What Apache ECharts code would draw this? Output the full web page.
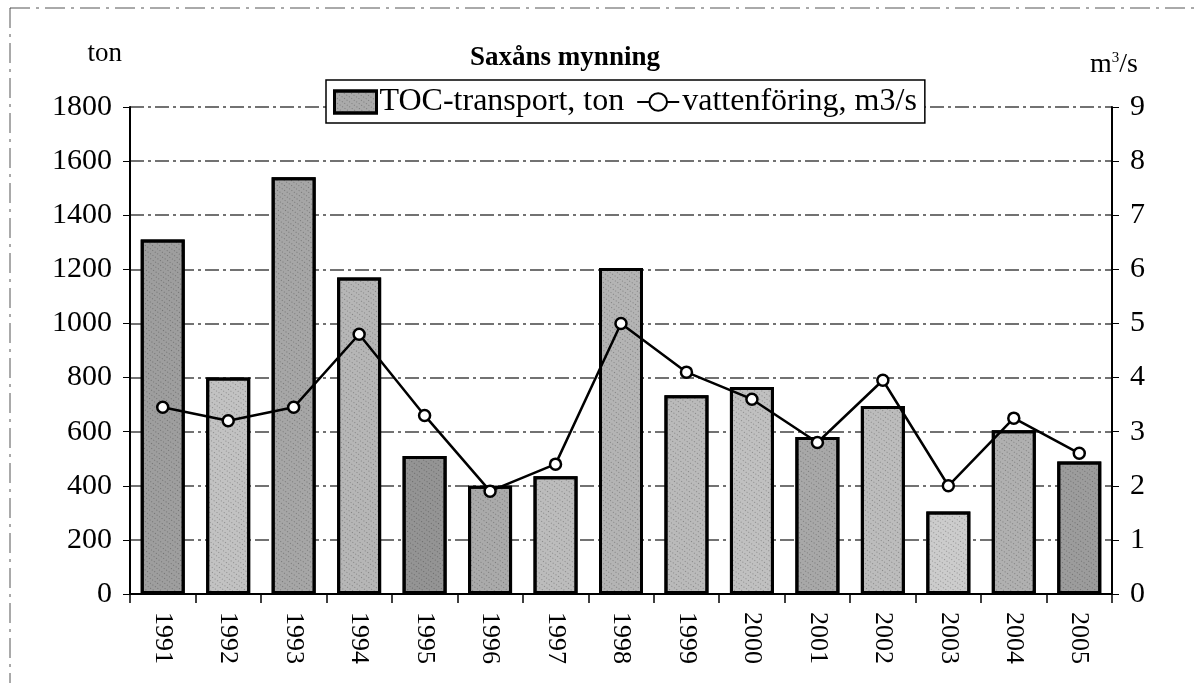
<!DOCTYPE html>
<html>
<head>
<meta charset="utf-8">
<script src="https://cdn.jsdelivr.net/npm/echarts@6/dist/echarts.min.js"></script>
<style>
  html, body { margin: 0; padding: 0; background: #fff; }
  #chart { width: 1198px; height: 683px; }
</style>
</head>
<body>
<div id="chart"></div>
<script>
var years = ['1991', '1992', '1993', '1994', '1995', '1996', '1997', '1998', '1999', '2000', '2001', '2002', '2003', '2004', '2005'];
var tocTon = [1310, 800, 1540, 1170, 510, 400, 435, 1205, 735, 765, 580, 695, 305, 605, 490];
var flowM3s = [3.45, 3.2, 3.45, 4.8, 3.3, 1.9, 2.4, 5.0, 4.1, 3.6, 2.8, 3.95, 2.0, 3.25, 2.6];
var barShades = ['#9e9e9e', '#c2c2c2', '#a6a6a6', '#b6b6b6', '#949494', '#aaaaaa', '#bcbcbc', '#b4b4b4', '#bababa', '#c0c0c0', '#a8a8a8', '#bcbcbc', '#cccccc', '#b0b0b0', '#9c9c9c'];

var serif = '"Liberation Serif", "DejaVu Serif", serif';
var myChart = echarts.init(document.getElementById('chart'));

var speckle = {
  symbol: 'rect',
  symbolSize: 1,
  color: 'rgba(0,0,0,0.28)',
  dashArrayX: [1, 2],
  dashArrayY: [1, 3],
  rotation: 0.6
};

var option = {
  backgroundColor: '#fff',
  animation: false,
  textStyle: { fontFamily: serif, color: '#000' },
  title: {
    text: 'Saxåns mynning',
    left: 560,
    top: 40,
    textAlign: 'center',
    textStyle: { fontFamily: serif, fontWeight: 'bold', fontSize: 27, color: '#000' }
  },
  graphic: [{
    type: 'rect',
    shape: { x: 10, y: 8, width: 1200, height: 700 },
    style: { fill: 'none', stroke: '#555', lineWidth: 1, lineDash: [20, 6, 3, 6] },
    silent: true
  }],
  legend: {
    left: 326,
    top: 80,
    itemGap: 12,
    padding: [6, 8, 5, 7],
    backgroundColor: '#fff',
    borderColor: '#000',
    borderWidth: 1.5,
    borderRadius: 0,
    itemWidth: 42,
    itemHeight: 22,
    textStyle: { fontFamily: serif, fontSize: 32, color: '#000', padding: [0, 0, 0, -2] },
    data: [
      { name: 'TOC-transport, ton', icon: 'rect', itemStyle: { color: '#aaa', borderColor: '#000', borderWidth: 3, decal: speckle } },
      { name: 'vattenföring, m3/s' }
    ]
  },
  grid: { left: 130, right: 86, top: 107, bottom: 89 },
  xAxis: {
    type: 'category',
    data: years,
    axisLine: { lineStyle: { color: '#000', width: 2 } },
    axisTick: { show: true, length: 9, lineStyle: { color: '#000', width: 1.5 } },
    axisLabel: { rotate: -90, fontSize: 26, color: '#000', fontFamily: serif, margin: 18 }
  },
  yAxis: [{
    type: 'value',
    min: 0, max: 1800, interval: 200,
    name: 'ton',
    nameLocation: 'end',
    nameGap: 40,
    nameTextStyle: { fontSize: 27, color: '#000', fontFamily: serif, align: 'right', padding: [0, 8, 0, 0] },
    axisLine: { show: true, lineStyle: { color: '#000', width: 2 } },
    axisTick: { show: true, length: 7, lineStyle: { color: '#000' } },
    axisLabel: { fontSize: 30, color: '#000', fontFamily: serif, margin: 18, formatter: function (v) { return String(v); } },
    splitLine: { show: true, lineStyle: { color: '#444', width: 1.5, type: [14, 4, 3, 4] } }
  }, {
    type: 'value',
    min: 0, max: 9, interval: 1,
    name: '{b|m}{s|3}{b|/s}',
    nameLocation: 'end',
    nameGap: 28,
    nameTextStyle: {
      align: 'left', padding: [0, 0, 0, -22],
      rich: {
        b: { fontSize: 28, fontFamily: serif, color: '#000' },
        s: { fontSize: 15, fontFamily: serif, color: '#000', verticalAlign: 'top', padding: [0, 0, 12, 0] }
      }
    },
    axisLine: { show: true, lineStyle: { color: '#000', width: 2 } },
    axisTick: { show: true, length: 7, lineStyle: { color: '#000' } },
    axisLabel: { fontSize: 30, color: '#000', fontFamily: serif, margin: 18 },
    splitLine: { show: false }
  }],
  series: [{
    name: 'TOC-transport, ton',
    type: 'bar',
    yAxisIndex: 0,
    barWidth: 44,
    data: tocTon.map(function (v, i) {
      return { value: v, itemStyle: { color: barShades[i] } };
    }),
    itemStyle: { color: '#aaa', borderColor: '#000', borderWidth: 3, decal: speckle }
  }, {
    name: 'vattenföring, m3/s',
    type: 'line',
    yAxisIndex: 1,
    data: flowM3s,
    symbol: 'circle',
    symbolSize: 11,
    lineStyle: { color: '#000', width: 2.5 },
    itemStyle: { color: '#fff', borderColor: '#000', borderWidth: 2.5 },
    z: 5
  }]
};

myChart.setOption(option);
</script>
</body>
</html>
